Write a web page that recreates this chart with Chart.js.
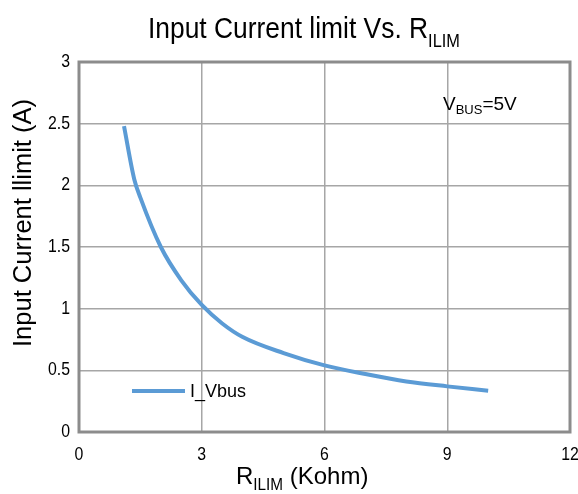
<!DOCTYPE html>
<html><head><meta charset="utf-8">
<script src="https://cdn.jsdelivr.net/npm/chart.js@4"></script>
<style>html,body{margin:0;padding:0;background:#fff}#wrap{width:578px;height:494px}</style>
</head><body><div id="wrap"><canvas id="c" width="578" height="494"></canvas></div>
<script>
const rIlim = [1.1, 1.35, 1.5, 2.0, 2.5, 3.0, 3.5, 4.0, 5.0, 6.0, 7.0, 8.0, 9.0, 10.0];
const iVbus = [2.48, 2.05, 1.9, 1.5, 1.23, 1.03, 0.88, 0.77, 0.64, 0.54, 0.47, 0.41, 0.37, 0.335];
const xTicks = [0, 3, 6, 9, 12];
const yTicks = [0, 0.5, 1, 1.5, 2, 2.5, 3];
const seriesName = 'I_Vbus';
const FONT = '"Liberation Sans", Arial, sans-serif';

function partsWidth(ctx, parts) {
  let total = 0;
  parts.forEach(p => { ctx.font = p.size + 'px ' + FONT; total += ctx.measureText(p.t).width * (p.k || 1); });
  return total;
}
function subText(ctx, parts, x, y, align) {
  const total = partsWidth(ctx, parts);
  let cx = align === 'center' ? x - total / 2 : (align === 'right' ? x - total : x);
  parts.forEach(p => {
    const k = p.k || 1;
    ctx.font = p.size + 'px ' + FONT;
    ctx.textAlign = 'left';
    ctx.textBaseline = p.base || 'alphabetic';
    ctx.save();
    ctx.translate(cx, y + (p.dy || 0));
    ctx.scale(k, 1);
    ctx.fillText(p.t, 0, 0);
    ctx.restore();
    cx += ctx.measureText(p.t).width * k;
  });
}

const deco = {
  id: 'deco',
  afterDraw(chart) {
    const ctx = chart.ctx, a = chart.chartArea;
    const xs = chart.scales.x, ys = chart.scales.y;
    ctx.save();
    ctx.strokeStyle = '#8c8c8c';
    ctx.lineWidth = 3;
    ctx.strokeRect(a.left, a.top, a.right - a.left, a.bottom - a.top);
    ctx.fillStyle = '#000';
    // tick labels
    xTicks.forEach(v => {
      subText(ctx, [{t: String(v), size: 18, k: 0.88, base: 'middle'}], xs.getPixelForValue(v), 455, 'center');
    });
    yTicks.forEach(v => {
      subText(ctx, [{t: String(v), size: 18, k: 0.88, base: 'middle'}], 70, ys.getPixelForValue(v), 'right');
    });
    // title
    subText(ctx, [{t: 'Input Current limit Vs. R', size: 29, k: 0.91}, {t: 'ILIM', size: 19, k: 0.86, dy: 9}], 148, 38, 'left');
    // x title
    subText(ctx, [{t: 'R', size: 24}, {t: 'ILIM', size: 17, k: 0.9, dy: 6}, {t: ' (Kohm)', size: 24}], 236, 484, 'left');
    // y title
    ctx.save();
    ctx.translate(31, 223);
    ctx.rotate(-Math.PI / 2);
    subText(ctx, [{t: 'Input Current llimit (A)', size: 25.5}], 0, 0, 'center');
    ctx.restore();
    // annotation
    subText(ctx, [{t: 'V', size: 19}, {t: 'BUS', size: 13, dy: 4}, {t: '=5V', size: 19}], 443, 110, 'left');
    // legend
    ctx.strokeStyle = '#5b9bd5';
    ctx.lineWidth = 4;
    ctx.beginPath(); ctx.moveTo(132, 391); ctx.lineTo(185, 391); ctx.stroke();
    ctx.fillStyle = '#000';
    subText(ctx, [{t: seriesName, size: 18}], 190, 397, 'left');
    ctx.restore();
  }
};

new Chart(document.getElementById('c'), {
  type: 'line',
  data: {
    datasets: [{
      label: seriesName,
      data: rIlim.map((x, i) => ({x, y: iVbus[i]})),
      borderColor: '#5b9bd5',
      borderWidth: 4,
      pointRadius: 0,
      cubicInterpolationMode: 'monotone',
      fill: false
    }]
  },
  options: {
    responsive: false,
    animation: false,
    layout: {padding: {top: 62, right: 8, left: 0, bottom: 0}},
    plugins: {legend: {display: false}, title: {display: false}, tooltip: {enabled: false}},
    scales: {
      x: {
        type: 'linear', min: 0, max: 12,
        afterBuildTicks: s => { s.ticks = xTicks.map(v => ({value: v})); },
        afterFit: s => { s.height = 62; },
        grid: {color: '#a6a6a6', lineWidth: 1.5, drawTicks: false},
        border: {display: false},
        ticks: {display: false}
      },
      y: {
        type: 'linear', min: 0, max: 3,
        afterBuildTicks: s => { s.ticks = yTicks.map(v => ({value: v})); },
        afterFit: s => { s.width = 79; },
        grid: {color: '#a6a6a6', lineWidth: 1.5, drawTicks: false},
        border: {display: false},
        ticks: {display: false}
      }
    }
  },
  plugins: [deco]
});
</script></body></html>
